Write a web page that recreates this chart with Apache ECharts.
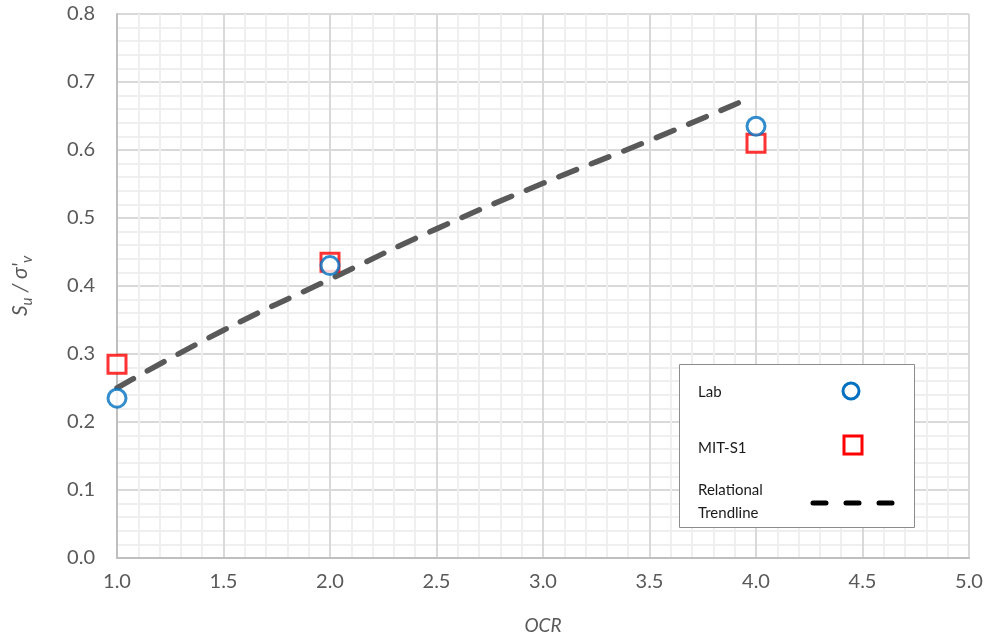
<!DOCTYPE html>
<html><head><meta charset="utf-8">
<script src="https://cdn.jsdelivr.net/npm/echarts@6/dist/echarts.min.js"></script>
<style>html,body{margin:0;padding:0;background:#fff}#c{width:989px;height:640px}</style>
</head><body><div id="c"></div>
<script>
const labOCR = [1, 2, 4];
const labSu = [0.235, 0.43, 0.635];
const mitOCR = [1, 2, 4];
const mitSu = [0.285, 0.435, 0.61];
const trendOCR = [1, 1.5, 2, 2.5, 3, 3.5, 3.93];
const trendSu = [0.25, 0.335, 0.41, 0.484, 0.551, 0.614, 0.671];
const xTicks = [1.0, 1.5, 2.0, 2.5, 3.0, 3.5, 4.0, 4.5, 5.0];
const yTicks = [0.0, 0.1, 0.2, 0.3, 0.4, 0.5, 0.6, 0.7, 0.8];
const legendNames = ['Lab', 'MIT-S1', 'Relational\nTrendline'];

const zip = (a, b) => a.map((v, i) => [v, b[i]]);
const font = 'Lato, "Open Sans", sans-serif';
const chart = echarts.init(document.getElementById('c'), null, {renderer: 'canvas'});
const axisCommon = {
  axisLine: {show: true, lineStyle: {color: '#bfbfbf', width: 2}},
  axisTick: {show: false},
  splitLine: {show: true, lineStyle: {color: '#d9d9d9', width: 2}},
  minorTick: {show: false, splitNumber: 5},
  minorSplitLine: {show: true, lineStyle: {color: '#efefef', width: 2}},
  axisLabel: {color: '#595959', fontSize: 20, fontFamily: font}
};
chart.setOption({
  animation: false,
  backgroundColor: '#fff',
  grid: {left: 117, right: 20, top: 14, bottom: 77, containLabel: false},
  xAxis: Object.assign({}, axisCommon, {
    type: 'value', min: xTicks[0], max: xTicks[xTicks.length - 1], interval: 0.5,
    name: 'OCR', nameLocation: 'middle', nameGap: 58,
    nameTextStyle: {color: '#595959', fontSize: 19, fontStyle: 'italic', fontFamily: font},
    axisLabel: Object.assign({}, axisCommon.axisLabel, {margin: 14, formatter: v => v.toFixed(1)})
  }),
  yAxis: Object.assign({}, axisCommon, {
    type: 'value', min: yTicks[0], max: yTicks[yTicks.length - 1], interval: 0.1,
    name: '{i|S}{s|u}{i| / σ\'}{s|v}', nameLocation: 'middle', nameGap: 86, nameRotate: 90,
    nameTextStyle: {
      color: '#595959', fontFamily: font,
      rich: {
        i: {fontSize: 21, fontStyle: 'italic', color: '#595959', fontFamily: font, verticalAlign: 'bottom'},
        s: {fontSize: 15, fontStyle: 'italic', color: '#595959', fontFamily: font, verticalAlign: 'bottom', padding: [0, 0, -4, 0]}
      }
    },
    axisLabel: Object.assign({}, axisCommon.axisLabel, {margin: 22, formatter: v => v.toFixed(1)})
  }),
  series: [
    {
      name: legendNames[2], type: 'line', data: zip(trendOCR, trendSu), smooth: true,
      showSymbol: false, symbol: 'none',
      lineStyle: {color: '#595959', width: 5.5, type: [19, 16], cap: 'round'}, z: 2
    },
    {
      name: legendNames[1], type: 'scatter', data: zip(mitOCR, mitSu), symbol: 'rect', symbolSize: 18,
      itemStyle: {color: '#ffffff', borderColor: '#ff0000', borderWidth: 3}, z: 3
    },
    {
      name: legendNames[0], type: 'scatter', data: zip(labOCR, labSu), symbol: 'circle', symbolSize: 18,
      itemStyle: {color: '#ffffff', borderColor: '#0070c0', borderWidth: 3}, z: 4
    }
  ],
  graphic: [
    {type: 'rect', shape: {x: 679.5, y: 364.5, width: 235, height: 163}, style: {fill: '#fff', stroke: '#8c8c8c', lineWidth: 1}, z: 10},
    {type: 'text', x: 698, y: 392, style: {text: legendNames[0], fill: '#1a1a1a', font: '15px ' + font, textVerticalAlign: 'middle'}, z: 11},
    {type: 'circle', shape: {cx: 851, cy: 391, r: 8}, style: {fill: '#fff', stroke: '#0070c0', lineWidth: 3}, z: 11},
    {type: 'text', x: 698, y: 448, style: {text: legendNames[1], fill: '#1a1a1a', font: '15px ' + font, textVerticalAlign: 'middle'}, z: 11},
    {type: 'rect', shape: {x: 844, y: 436, width: 18, height: 18}, style: {fill: '#fff', stroke: '#ff0000', lineWidth: 3}, z: 11},
    {type: 'text', x: 698, y: 502, style: {text: legendNames[2], fill: '#1a1a1a', font: '15px ' + font, textVerticalAlign: 'middle', lineHeight: 23}, z: 11},
    {type: 'line', shape: {x1: 813, y1: 503, x2: 893, y2: 503}, style: {stroke: '#000', lineWidth: 5, lineCap: 'round', lineDash: [13, 20]}, z: 11}
  ]
});
</script></body></html>
